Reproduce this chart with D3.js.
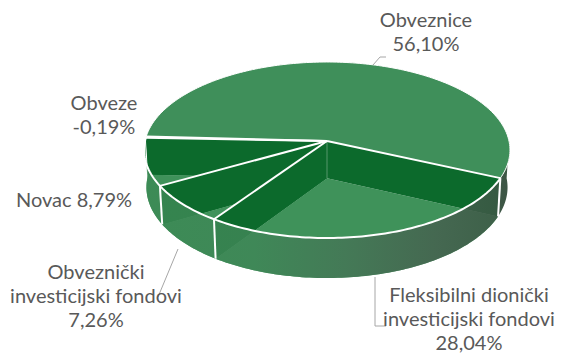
<!DOCTYPE html>
<html>
<head>
<meta charset="utf-8">
<script src="https://cdn.jsdelivr.net/npm/d3@7"></script>
<style>
  body { margin: 0; background: #fff; }
  svg { display: block; }
</style>
</head>
<body>
<svg id="chart" width="562" height="356"></svg>
<script>
// Portfolio structure (share of net assets, %)
const categories = ["Obveznice", "Fleksibilni dionički investicijski fondovi", "Obveznički investicijski fondovi", "Novac", "Obveze"];
const shares = [56.10, 28.04, 7.26, 8.79, -0.19];
// How each category name is broken over label lines
const nameLines = [["Obveznice"], ["Fleksibilni dionički", "investicijski fondovi"], ["Obveznički", "investicijski fondovi"], ["Novac"], ["Obveze"]];
// Whether the value goes on its own line or after the name
const valueOnOwnLine = [true, true, true, false, true];
// Label anchor (centre x, first baseline y) and leader line points
const labelPos = [[426, 27], [469, 302], [96, 279], [74, 207], [104, 110]];
const leaders = [
  [[373, 65], [380, 57], [386, 57]],
  [[375, 277], [375, 326], [386, 326]],
  [[178, 249], [158, 297]],
  null,
  null
];

const svg = d3.select("#chart");

// 3D pie geometry with a slightly perspective camera
const R = 182, cx = 327, cy = 141;
const tilt = Math.asin(0.4785), camDist = 8.58, thick = 0.236;
function proj(a, r, level) {
  const X = r * Math.sin(a), Z = r * Math.cos(a), Y = -level * thick;
  const up = Y * Math.cos(tilt) + Z * Math.sin(tilt);
  const depth = -Y * Math.sin(tilt) + Z * Math.cos(tilt);
  const s = camDist / (camDist + depth);
  return [cx + R * X * s, cy - R * up * s];
}
function rim(a0, a1, level) {
  const n = Math.max(2, Math.ceil(Math.abs(a1 - a0) / 0.02));
  return d3.range(n + 1).map(i => proj(a0 + (a1 - a0) * i / n, 1, level));
}
const line = d3.line();
const closed = pts => line(pts) + "Z";

const startAngle = -87.1 * Math.PI / 180;
const pie = d3.pie().sort(null).value(d => Math.abs(d))
  .startAngle(startAngle).endAngle(startAngle + 2 * Math.PI);
const arcs = pie(shares);

const fmt = d3.formatLocale({ decimal: ",", thousands: ".", grouping: [3], currency: ["", " €"], minus: "-" }).format(".2f");
const valueText = v => fmt(v) + "%";

const defs = svg.append("defs");
const sideGrad = defs.append("linearGradient").attr("id", "side")
  .attr("gradientUnits", "userSpaceOnUse").attr("x1", 145).attr("x2", 510).attr("y1", 0).attr("y2", 0);
[[0, "#3c8a55"], [0.3, "#3f8657"], [0.55, "#457556"], [0.8, "#46604f"], [1, "#3c5544"]]
  .forEach(([o, c]) => sideGrad.append("stop").attr("offset", o).attr("stop-color", c));

const topColor = "#3f8f5a", floorColor = "#3f925a", wallColor = "#0c6a2c";
const g = svg.append("g");

// Floors of the open front slices
arcs.forEach((d, i) => {
  if (i === 0) return;
  g.append("path").attr("d", closed([proj(0, 0, 1), ...rim(d.startAngle, d.endAngle, 1)]))
    .attr("fill", floorColor);
});

// Radial walls at each slice boundary, far ones first
const bounds = arcs.map(d => d.startAngle);
bounds.map(a => ({ a, depth: Math.cos(a) }))
  .sort((p, q) => q.depth - p.depth)
  .forEach(({ a }) => {
    g.append("path").attr("d", closed([proj(a, 0, 0), proj(a, 1, 0), proj(a, 1, 1), proj(a, 0, 1)]))
      .attr("fill", wallColor);
  });

// Outer curved wall over the visible front half
const frontA = Math.PI / 2, frontB = 3 * Math.PI / 2;
function frontPart(d) {
  let a0 = d.startAngle, a1 = d.endAngle;
  if (a1 <= frontA) { a0 += 2 * Math.PI; a1 += 2 * Math.PI; }
  const s = Math.max(a0, frontA), e = Math.min(a1, frontB);
  return e > s ? [s, e] : null;
}
arcs.forEach((d, i) => {
  const part = frontPart(d);
  if (!part) return;
  const pts = [...rim(part[0], part[1], 0), ...rim(part[1], part[0], 1)];
  g.append("path").attr("d", closed(pts)).attr("fill", "url(#side)")
    .attr("fill-opacity", i === 0 ? 1 : 0.84);
});

// Solid top of the largest slice
const big = arcs[0];
g.append("path").attr("d", closed([proj(0, 0, 0), ...rim(big.startAngle, big.endAngle, 0)]))
  .attr("fill", topColor);

// White edges
const edge = g.append("g").attr("fill", "none").attr("stroke", "#fff").attr("stroke-width", 2)
  .attr("stroke-linejoin", "round");
edge.append("path").attr("d", line(rim(big.endAngle, big.startAngle + 2 * Math.PI, 0)));
edge.append("path").attr("d", line(rim(big.startAngle, big.endAngle, 0))).attr("stroke-width", 1);
bounds.forEach(a => edge.append("path").attr("d", line([proj(a, 0, 0), proj(a, 1, 0)])));
bounds.forEach(a => {
  const n = ((a % (2 * Math.PI)) + 2 * Math.PI) % (2 * Math.PI);
  if (n > frontA && n < frontB) edge.append("path").attr("d", line([proj(a, 1, 0), proj(a, 1, 1)]));
});
edge.append("path").attr("d", line([proj(0, 0, 0), proj(0, 0, 1)]))
  .attr("stroke-opacity", 0.25).attr("stroke-width", 1.2);

// Leader lines
leaders.forEach(pts => {
  if (!pts) return;
  svg.append("path").attr("d", line(pts)).attr("fill", "none")
    .attr("stroke", "#a6a6a6").attr("stroke-width", 1);
});

// Data labels
const fontSize = 20;
arcs.forEach((d, i) => {
  const v = valueText(shares[i]);
  const lines = valueOnOwnLine[i] ? [...nameLines[i], v] : [nameLines[i][0] + " " + v];
  const t = svg.append("text").attr("x", labelPos[i][0]).attr("y", labelPos[i][1])
    .attr("text-anchor", "middle").attr("fill", "#595959")
    .style("font-family", "Lato, 'Open Sans', sans-serif").style("font-size", fontSize + "px");
  lines.forEach((s, k) => t.append("tspan").attr("x", labelPos[i][0]).attr("dy", k === 0 ? 0 : 24).text(s));
});
</script>
</body>
</html>
